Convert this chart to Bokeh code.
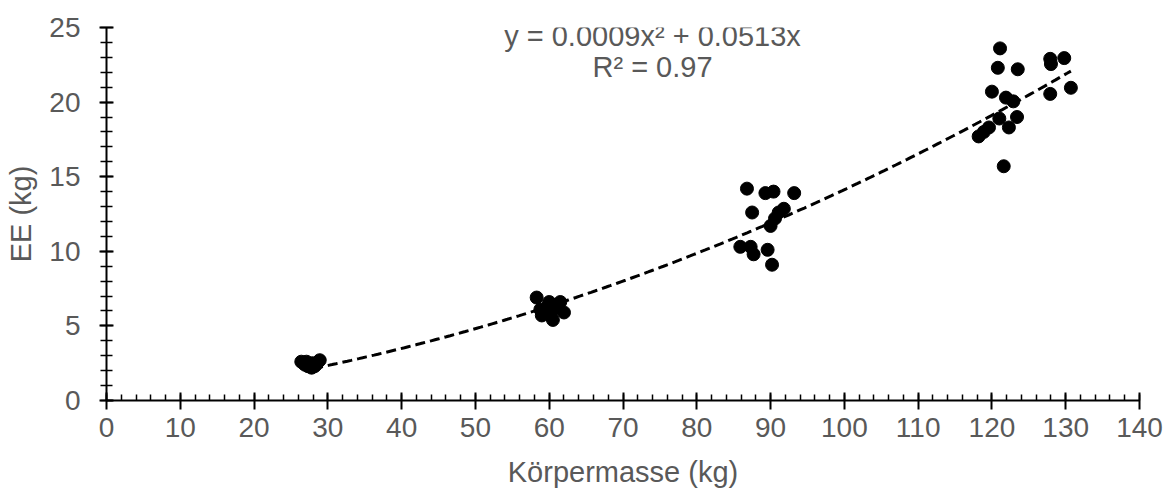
from bokeh.plotting import figure
from bokeh.models import Range1d, SingleIntervalTicker, Label, ColumnDataSource
from bokeh.embed import file_html
from bokeh.resources import INLINE
import numpy as np

mass = [26.4, 26.9, 27.3, 27.8, 28.2, 28.7, 28.9, 27.1, 27.9, 26.7, 27.6, 28.4,
        58.3, 58.8, 59.0, 59.5, 60.0, 60.2, 60.5, 61.0, 61.5, 62.0, 60.8, 59.8,
        86.8, 89.3, 90.4, 93.2, 87.5, 91.1, 91.8, 90.6, 90.0, 85.9, 87.3, 87.7, 89.6, 90.2,
        121.1, 120.8, 123.5, 127.9, 128.0, 129.8, 120.0, 121.9, 122.9, 127.9, 130.7,
        123.4, 121.0, 122.3, 119.6, 118.9, 118.2, 121.6]
ee = [2.6, 2.4, 2.3, 2.2, 2.3, 2.6, 2.7, 2.6, 2.5, 2.5, 2.3, 2.4,
      6.9, 6.1, 5.7, 6.0, 6.6, 5.8, 5.4, 6.4, 6.6, 5.9, 6.2, 6.3,
      14.2, 13.9, 14.0, 13.9, 12.6, 12.6, 12.85, 12.2, 11.7, 10.3, 10.3, 9.8, 10.1, 9.1,
      23.6, 22.3, 22.2, 22.9, 22.55, 22.95, 20.7, 20.3, 20.05, 20.55, 20.96,
      19.0, 18.9, 18.3, 18.3, 18.0, 17.7, 15.7]

# polynomial trendline coefficients as printed on the chart (a*x^2 + b*x)
coef_a = 0.0009
coef_b = 0.0513
r2 = 0.97
trend_start = 28.0
trend_end = 130.7

x_ticks_interval = 10
y_ticks_interval = 5

FONT = "Liberation Sans"
GRAY = "#595959"

p = figure(width=1169, height=491, output_backend="svg", toolbar_location=None,
           x_range=Range1d(0, 140), y_range=Range1d(0, 25),
           min_border_left=106, min_border_right=30, min_border_top=27, min_border_bottom=91)
p.outline_line_color = None
p.xgrid.visible = False
p.ygrid.visible = False
p.background_fill_color = "white"

# trendline
tx = np.linspace(trend_start, trend_end, 200)
ty = coef_a * tx**2 + coef_b * tx
p.line(tx, ty, line_color="black", line_width=3, line_dash="10 5")

src = ColumnDataSource(data=dict(x=mass, y=ee))
p.scatter("x", "y", source=src, size=13, fill_color="black", line_color="black")

# axes
xa = p.xaxis[0]
xa.ticker = SingleIntervalTicker(interval=x_ticks_interval, num_minor_ticks=5)
xa.axis_label = "Körpermasse (kg)"
ya = p.yaxis[0]
ya.ticker = SingleIntervalTicker(interval=y_ticks_interval, num_minor_ticks=5)
ya.axis_label = "EE (kg)"

for ax in (xa, ya):
    ax.axis_line_color = "black"
    ax.axis_line_width = 2
    ax.major_tick_line_color = "black"
    ax.major_tick_line_width = 2
    ax.minor_tick_line_color = "black"
    ax.minor_tick_line_width = 1.5
    ax.major_label_text_font = FONT
    ax.major_label_text_font_size = "28px"
    ax.major_label_text_color = GRAY
    ax.axis_label_text_font = FONT
    ax.axis_label_text_font_size = "29px"
    ax.axis_label_text_color = GRAY
    ax.axis_label_text_font_style = "normal"

xa.major_tick_in = 8
xa.major_tick_out = 9
xa.minor_tick_in = 6
xa.minor_tick_out = 0
xa.major_label_standoff = 8
xa.axis_label_standoff = 16
xa.axis_label_text_line_height = 0.75

ya.major_tick_in = 7
ya.major_tick_out = 7
ya.minor_tick_in = 6
ya.minor_tick_out = 6
ya.major_label_standoff = 19
ya.axis_label_standoff = 9

eq1 = "y = %.4fx² + %.4fx" % (coef_a, coef_b)
eq2 = "R² = %.2f" % r2
p.add_layout(Label(x=74.0, y=24.45, text=eq1, text_align="center", text_baseline="middle",
                   text_font=FONT, text_font_size="29px", text_color=GRAY))
p.add_layout(Label(x=74.0, y=22.35, text=eq2, text_align="center", text_baseline="middle",
                   text_font=FONT, text_font_size="29px", text_color=GRAY))

open("out.html", "w").write(file_html(p, INLINE))
